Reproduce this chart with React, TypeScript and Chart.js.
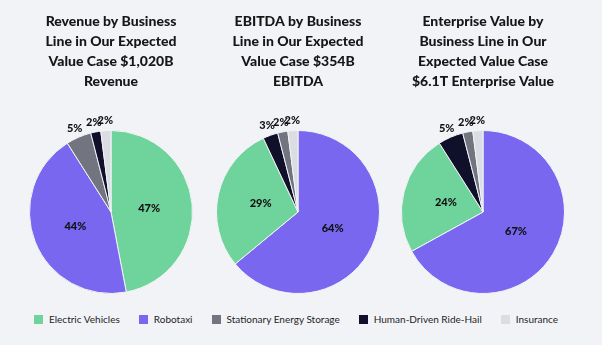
import React, { useEffect, useRef } from "react";
import { Chart, registerables } from "chart.js";
Chart.register(...registerables);

const categories = ["Electric Vehicles", "Robotaxi", "Stationary Energy Storage", "Human-Driven Ride-Hail", "Insurance"];
const categoryColors = ["#6fd49c", "#7a67f0", "#727480", "#10102a", "#dcdde3"];

const revenueLabels = ["Electric Vehicles", "Robotaxi", "Stationary Energy Storage", "Human-Driven Ride-Hail", "Insurance"];
const revenueValues = [47, 44, 5, 2, 2];
const revenueTitle = ["Revenue by Business", "Line in Our Expected", "Value Case $1,020B", "Revenue"];

const ebitdaLabels = ["Robotaxi", "Electric Vehicles", "Human-Driven Ride-Hail", "Stationary Energy Storage", "Insurance"];
const ebitdaValues = [64, 29, 3, 2, 2];
const ebitdaTitle = ["EBITDA by Business", "Line in Our Expected", "Value Case $354B", "EBITDA"];

const evLabels = ["Robotaxi", "Electric Vehicles", "Human-Driven Ride-Hail", "Stationary Energy Storage", "Insurance"];
const evValues = [67, 24, 5, 2, 2];
const evTitle = ["Enterprise Value by", "Business Line in Our", "Expected Value Case", "$6.1T Enterprise Value"];

const FONT = "Lato, 'Noto Sans', sans-serif";

const pctLabels = {
  id: "pctLabels",
  afterDatasetsDraw(chart: any) {
    const ctx = chart.ctx;
    const meta = chart.getDatasetMeta(0);
    const data = chart.data.datasets[0].data as number[];
    const total = data.reduce((a: number, b: number) => a + b, 0);
    ctx.save();
    ctx.font = `900 11px ${FONT}`;
    ctx.fillStyle = "#111111";
    ctx.textAlign = "center";
    ctx.textBaseline = "middle";
    meta.data.forEach((arc: any, i: number) => {
      const { x, y, startAngle, endAngle, outerRadius } = arc.getProps(["x", "y", "startAngle", "endAngle", "outerRadius"], true);
      const mid = (startAngle + endAngle) / 2;
      const pct = (data[i] / total) * 100;
      const d = pct >= 10 ? outerRadius * 0.47 : outerRadius + 10;
      ctx.fillText(Math.round(pct) + "%", x + Math.cos(mid) * d, y + Math.sin(mid) * d);
    });
    ctx.restore();
  },
};

function PieChart({ labels, values, title, left }: { labels: string[]; values: number[]; title: string[]; left: number }) {
  const ref = useRef<HTMLCanvasElement>(null);
  useEffect(() => {
    if (!ref.current) return;
    const chart = new Chart(ref.current, {
      type: "pie",
      data: {
        labels,
        datasets: [
          {
            data: values,
            backgroundColor: labels.map((l) => categoryColors[categories.indexOf(l)]),
            borderColor: "#f2f3f7",
            borderWidth: 1,
          },
        ],
      },
      options: {
        responsive: false,
        animation: false,
        layout: { padding: { left: 11, right: 11, top: 0, bottom: 6 } },
        plugins: {
          legend: { display: false },
          tooltip: { enabled: false },
          title: {
            display: true,
            text: title,
            color: "#161616",
            font: { family: FONT, size: 14, weight: "900", lineHeight: 20 / 14 },
            padding: { top: 11, bottom: 39 },
          },
        },
      },
      plugins: [pctLabels],
    });
    return () => chart.destroy();
  }, []);
  return (
    <canvas
      ref={ref}
      width={186}
      height={300}
      style={{ position: "absolute", left, top: 0, width: 186, height: 300 }}
    />
  );
}

export default function App() {
  return (
    <div style={{ position: "fixed", left: 0, top: 0, width: 602, height: 345, background: "#f2f3f7", overflow: "hidden" }}>
      <PieChart labels={revenueLabels} values={revenueValues} title={revenueTitle} left={18} />
      <PieChart labels={ebitdaLabels} values={ebitdaValues} title={ebitdaTitle} left={205} />
      <PieChart labels={evLabels} values={evValues} title={evTitle} left={390} />
      <div
        style={{
          position: "absolute",
          left: 34,
          top: 312,
          display: "flex",
          alignItems: "center",
          fontFamily: FONT,
          fontSize: 10,
          color: "#1e1e1e",
          whiteSpace: "nowrap",
        }}
      >
        {categories.map((c, i) => (
          <div key={c} style={{ display: "flex", alignItems: "center", marginRight: 19, height: 14 }}>
            <span style={{ display: "inline-block", width: 9, height: 9, background: categoryColors[i], marginRight: 6 }} />
            <span>{c}</span>
          </div>
        ))}
      </div>
    </div>
  );
}
